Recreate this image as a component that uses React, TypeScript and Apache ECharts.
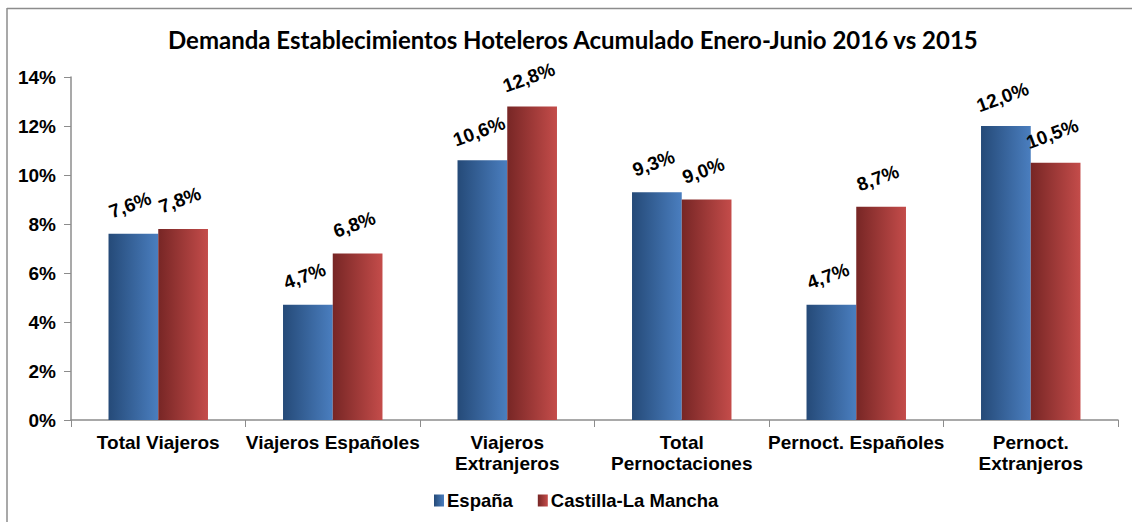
import React, { useEffect, useRef } from "react";
import * as echarts from "echarts";

const categories = [
  "Total Viajeros",
  "Viajeros Españoles",
  "Viajeros\nExtranjeros",
  "Total\nPernoctaciones",
  "Pernoct. Españoles",
  "Pernoct.\nExtranjeros",
];
const espana = [7.6, 4.7, 10.6, 9.3, 4.7, 12.0];
const castilla = [7.8, 6.8, 12.8, 9.0, 8.7, 10.5];
const yTicks = [0, 2, 4, 6, 8, 10, 12, 14];

const blueGrad = new echarts.graphic.LinearGradient(0, 0, 1, 0, [
  { offset: 0, color: "#254a78" },
  { offset: 1, color: "#4a7ebf" },
]);
const redGrad = new echarts.graphic.LinearGradient(0, 0, 1, 0, [
  { offset: 0, color: "#772625" },
  { offset: 1, color: "#c44c4a" },
]);

const fmt = (v: number) => v.toFixed(1).replace(".", ",") + "%";

export default function App() {
  const ref = useRef<HTMLDivElement>(null);
  useEffect(() => {
    document.body.style.margin = "0";
    const chart = echarts.init(ref.current!, null, { renderer: "svg" });
    const labelCfg = {
      show: true,
      position: "top" as const,
      distance: 20,
      rotate: 20,
      formatter: (p: any) => fmt(p.value),
      fontFamily: "Liberation Sans, Arial",
      fontWeight: "bold" as const,
      fontSize: 19,
      color: "#000",
    };
    chart.setOption({
      animation: false,
      backgroundColor: "#fff",
      title: {
        text: "Demanda Establecimientos Hoteleros Acumulado Enero-Junio 2016 vs 2015",
        left: 163,
        top: 22,
        textStyle: {
          fontFamily: "Lato",
          fontWeight: "bold",
          fontSize: 24,
          color: "#000",
        },
      },
      graphic: [
        {
          type: "line",
          shape: { x1: 7, y1: 8.5, x2: 1132, y2: 8.5 },
          style: { stroke: "#8c8c8c", lineWidth: 1.5 },
        },
        {
          type: "line",
          shape: { x1: 7, y1: 8, x2: 7, y2: 522 },
          style: { stroke: "#8c8c8c", lineWidth: 1.5 },
        },
      ],
      legend: {
        bottom: 7,
        left: 429,
        itemWidth: 10,
        itemHeight: 12,
        itemGap: 25,
        icon: "rect",
        textStyle: {
          fontFamily: "Liberation Sans, Arial",
          fontWeight: "bold",
          fontSize: 18.5,
          color: "#000",
          padding: [0, 0, 0, -2],
        },
        data: ["España", "Castilla-La Mancha"],
      },
      grid: { left: 71, right: 14, top: 77, bottom: 102, containLabel: false },
      xAxis: {
        type: "category",
        data: categories,
        axisLine: { lineStyle: { color: "#8c8c8c", width: 1.5 } },
        axisTick: { show: true, length: 7, lineStyle: { color: "#8c8c8c" } },
        axisLabel: {
          interval: 0,
          margin: 12,
          fontFamily: "Liberation Sans, Arial",
          fontWeight: "bold",
          fontSize: 19,
          lineHeight: 21,
          color: "#000",
        },
      },
      yAxis: {
        type: "value",
        min: yTicks[0],
        max: yTicks[yTicks.length - 1],
        interval: 2,
        splitLine: { show: false },
        axisLine: { show: true, lineStyle: { color: "#8c8c8c", width: 1.5 } },
        axisTick: { show: true, length: 7, lineStyle: { color: "#8c8c8c" } },
        axisLabel: {
          margin: 15,
          formatter: (v: number) => v + "%",
          fontFamily: "Liberation Sans, Arial",
          fontWeight: "bold",
          fontSize: 19,
          color: "#000",
        },
      },
      series: [
        {
          name: "España",
          type: "bar",
          data: espana,
          barGap: "0%",
          barCategoryGap: "43%",
          itemStyle: { color: blueGrad },
          label: labelCfg,
        },
        {
          name: "Castilla-La Mancha",
          type: "bar",
          data: castilla,
          barGap: "0%",
          barCategoryGap: "43%",
          itemStyle: { color: redGrad },
          label: labelCfg,
        },
      ],
    });
    return () => chart.dispose();
  }, []);
  return (
    <div
      ref={ref}
      style={{ position: "absolute", left: 0, top: 0, width: 1132, height: 522 }}
    />
  );
}
